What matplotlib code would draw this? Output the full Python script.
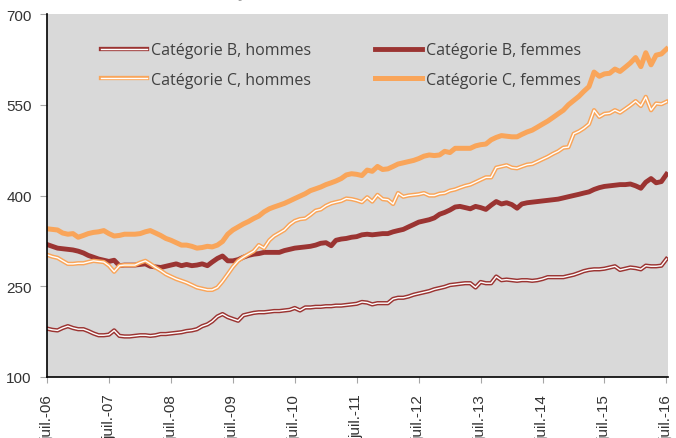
import numpy as np
import pandas as pd
import matplotlib
matplotlib.use("Agg")
import matplotlib.pyplot as plt

# monthly series, juil.-06 .. juil.-16 (en milliers)
dates = pd.date_range("2006-07-01", periods=121, freq="MS")

cat_b_hommes = [180, 178, 177, 181, 184, 181, 179, 179, 176, 172, 169, 169, 170, 177, 168, 167,
                167, 168, 169, 169, 168, 169, 171, 171, 172, 173, 174, 176, 177, 179, 184, 187,
                192, 200, 204, 199, 196, 193, 202, 204, 206, 207, 207, 208, 209, 209, 210, 211,
                214, 210, 215, 215, 216, 216, 217, 217, 218, 218, 219, 220, 221, 224, 223, 220,
                222, 222, 222, 229, 231, 231, 233, 236, 238, 240, 242, 245, 247, 249, 252, 253,
                254, 255, 255, 248, 257, 255, 255, 266, 260, 261, 260, 259, 260, 260, 259, 260,
                262, 265, 265, 265, 265, 267, 269, 272, 275, 277, 278, 278, 279, 281, 283, 277,
                279, 281, 280, 278, 284, 283, 283, 284, 295]

cat_b_femmes = [319, 316, 313, 312, 311, 310, 308, 305, 301, 298, 295, 293, 291, 293, 284, 285,
                285, 285, 286, 287, 283, 282, 281, 283, 285, 287, 284, 286, 284, 285, 287, 284,
                290, 296, 300, 292, 292, 294, 298, 301, 303, 304, 306, 306, 306, 306, 309, 311,
                313, 314, 315, 316, 318, 321, 322, 317, 326, 328, 329, 331, 332, 335, 336, 335,
                336, 337, 337, 340, 342, 344, 348, 352, 356, 358, 360, 363, 369, 372, 376, 381,
                382, 380, 378, 382, 380, 377, 384, 390, 386, 388, 385, 379, 386, 388, 389, 390,
                391, 392, 393, 394, 396, 398, 400, 402, 404, 406, 410, 413, 415, 416, 417, 418,
                418, 419, 416, 412, 422, 428, 421, 423, 435]

cat_c_hommes = [302, 299, 297, 292, 287, 287, 288, 288, 290, 292, 291, 290, 284, 274, 284, 285,
                285, 285, 289, 292, 287, 281, 276, 270, 266, 262, 259, 256, 252, 248, 246, 244,
                244, 248, 258, 270, 282, 292, 298, 303, 308, 318, 313, 326, 333, 338, 343, 352,
                358, 361, 362, 368, 375, 377, 383, 387, 389, 391, 395, 394, 392, 389, 397, 390,
                401, 394, 393, 386, 404, 398, 400, 401, 402, 404, 400, 400, 403, 404, 408, 410,
                413, 416, 418, 422, 426, 430, 430, 446, 448, 450, 446, 445, 448, 451, 452, 456,
                460, 464, 469, 473, 479, 480, 502, 506, 511, 518, 541, 530, 535, 536, 541, 537,
                543, 549, 556, 548, 563, 541, 552, 551, 555]

cat_c_femmes = [345, 344, 343, 338, 336, 337, 331, 334, 337, 339, 340, 342, 337, 333, 334, 336,
                336, 336, 337, 340, 342, 338, 334, 329, 326, 322, 318, 318, 316, 313, 314, 316,
                315, 318, 324, 336, 343, 348, 353, 357, 362, 366, 373, 378, 381, 384, 387, 391,
                395, 399, 403, 408, 411, 414, 418, 421, 424, 428, 434, 436, 435, 433, 442, 440,
                448, 443, 444, 448, 452, 454, 456, 458, 461, 465, 467, 466, 467, 473, 471, 478,
                478, 478, 478, 482, 484, 485, 492, 496, 499, 498, 497, 497, 501, 505, 508, 513,
                518, 523, 529, 535, 541, 550, 557, 564, 572, 580, 604, 597, 601, 602, 609, 605,
                612, 619, 628, 613, 636, 616, 632, 634, 642]

labels = ["Catégorie B, hommes", "Catégorie B, femmes",
          "Catégorie C, hommes", "Catégorie C, femmes"]
tick_years = list(range(2006, 2017))
tick_labels = ["juil.-%02d" % (y % 100) for y in tick_years]
y_ticks = [100, 250, 400, 550, 700]

red = "#9B3432"
orange = "#F9A55A"
bg = "#D9D9D9"

fig = plt.figure(figsize=(6.76, 4.39), dpi=100)
ax = fig.add_axes([47 / 676, 1 - 378 / 439, 621 / 676, 363 / 439])
ax.set_facecolor(bg)

# double lines: coloured outer stroke, light inner stroke
bh_o, = ax.plot(dates, cat_b_hommes, color=red, lw=3.1, solid_joinstyle="round")
bh_i, = ax.plot(dates, cat_b_hommes, color="white", lw=1.0, solid_joinstyle="round")
bf, = ax.plot(dates, cat_b_femmes, color=red, lw=3.5, solid_joinstyle="round")
ch_o, = ax.plot(dates, cat_c_hommes, color=orange, lw=3.1, solid_joinstyle="round")
ch_i, = ax.plot(dates, cat_c_hommes, color="white", lw=1.0, solid_joinstyle="round")
cf, = ax.plot(dates, cat_c_femmes, color=orange, lw=3.6, solid_joinstyle="round")

ax.set_ylim(100, 700)
ax.set_yticks(y_ticks)
ax.set_xlim(dates[0], dates[0] + pd.Timedelta(days=3662))
ax.set_xticks([pd.Timestamp("%d-07-01" % y) for y in tick_years])
ax.set_xticklabels(tick_labels, rotation=90, family="Liberation Sans", fontsize=11, color="#333333")
for t in ax.get_yticklabels():
    t.set_family("Liberation Sans")
    t.set_fontsize(11)
    t.set_color("#333333")

for s in ["top", "right"]:
    ax.spines[s].set_visible(False)
ax.spines["left"].set_color("black")
ax.spines["bottom"].set_color("black")
ax.spines["left"].set_linewidth(1.2)
ax.spines["bottom"].set_linewidth(1.2)
ax.tick_params(axis="y", length=5, color="#A6A6A6", pad=6)
ax.tick_params(axis="x", length=4, color="#A6A6A6", pad=8)

# order so that rows read B hommes | B femmes, C hommes | C femmes
leg = ax.legend([(bh_o, bh_i), (ch_o, ch_i), bf, cf],
                [labels[0], labels[2], labels[1], labels[3]],
                ncol=2, loc="upper left", bbox_to_anchor=(0.0636, 0.962),
                frameon=False, handlelength=2.9, handletextpad=0.25,
                columnspacing=4.0, labelspacing=0.85,
                prop={"family": "Open Sans", "size": 11.5})
for t in leg.get_texts():
    t.set_color("#404040")

# heading sits mostly above the top edge, as in the source
fig.text(0.075, 1 + 2.0 / 439, "En milliers, données CVS-CJO", fontsize=11,
         color="#A0A0A0", va="baseline", family="Open Sans")

plt.savefig("out.png", dpi=100)
